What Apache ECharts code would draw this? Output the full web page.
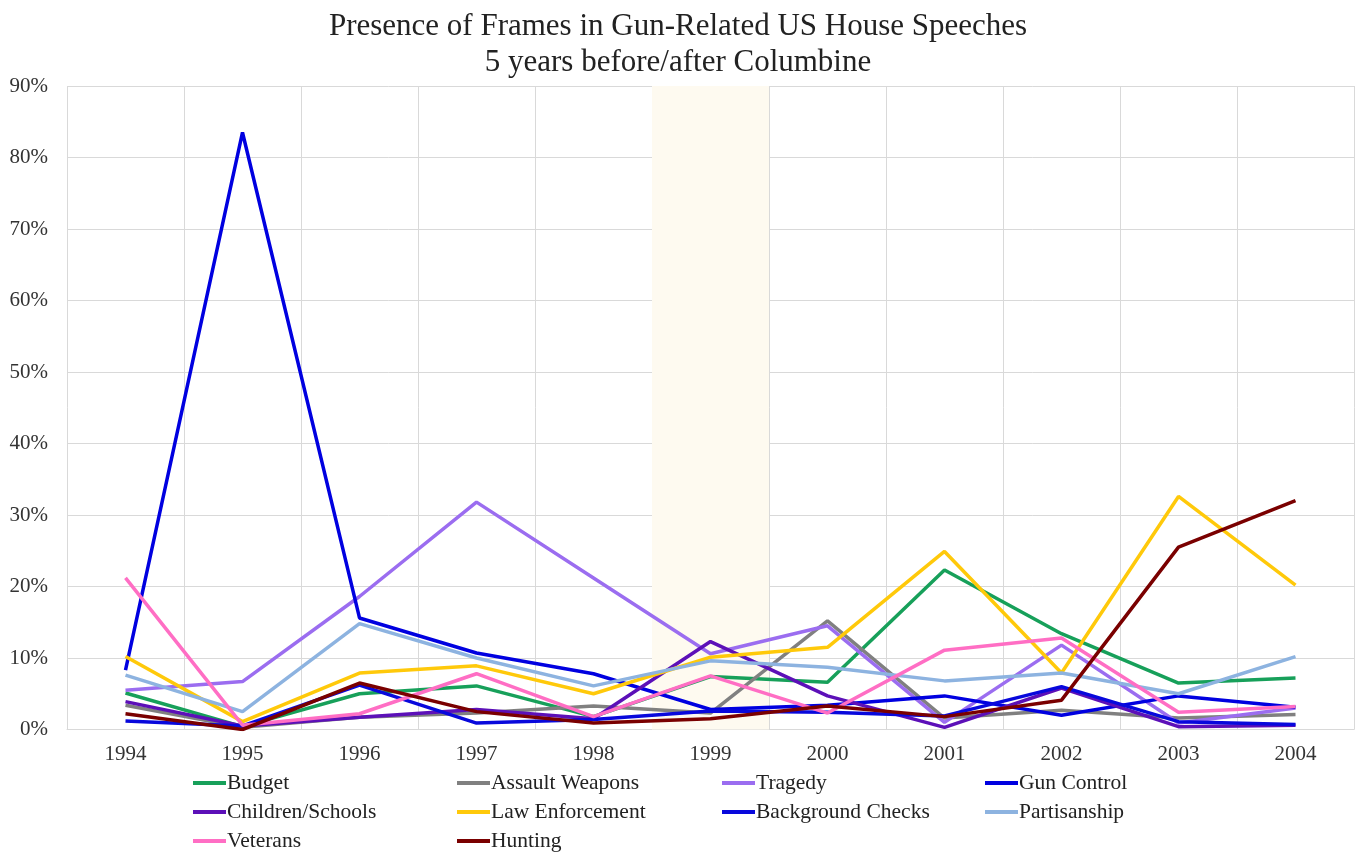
<!DOCTYPE html>
<html>
<head>
<meta charset="utf-8">
<script src="https://cdn.jsdelivr.net/npm/echarts@6/dist/echarts.min.js"></script>
<style>
  html, body { margin: 0; padding: 0; background: #ffffff; }
  #chart { width: 1356px; height: 854px; }
</style>
</head>
<body>
<div id="chart"></div>
<script>
// Years of House speeches, five before and five after Columbine (1999)
const years = ['1994', '1995', '1996', '1997', '1998', '1999', '2000', '2001', '2002', '2003', '2004'];

// Share of gun-related speeches containing each frame (%)
const budget           = [5.1, 0.4, 5.0, 6.1, 1.8, 7.4, 6.6, 22.3, 13.4, 6.5, 7.2];
const assaultWeapons   = [3.4, 0.3, 1.7, 2.3, 3.3, 2.3, 15.2, 1.6, 2.7, 1.6, 2.1];
const tragedy          = [5.5, 6.7, 18.6, 31.8, 21.2, 10.6, 14.5, 1.0, 11.8, 0.9, 3.0];
const gunControl       = [8.3, 83.5, 15.6, 10.7, 7.8, 2.8, 3.4, 4.7, 2.0, 4.7, 3.1];
const childrenSchools  = [3.9, 0.5, 1.7, 2.8, 1.5, 12.3, 4.7, 0.3, 5.8, 0.4, 0.6];
const lawEnforcement   = [10.2, 1.1, 7.9, 8.9, 5.0, 10.1, 11.5, 24.9, 7.9, 32.6, 20.2];
const backgroundChecks = [1.2, 0.5, 6.2, 0.9, 1.4, 2.6, 2.4, 1.9, 6.0, 1.1, 0.7];
const partisanship     = [7.6, 2.5, 14.8, 10.0, 6.1, 9.6, 8.7, 6.8, 7.9, 5.0, 10.2];
const veterans         = [21.2, 0.6, 2.2, 7.8, 1.8, 7.5, 2.3, 11.1, 12.8, 2.4, 3.2];
const hunting          = [2.2, 0.0, 6.5, 2.5, 0.9, 1.5, 3.3, 1.8, 4.1, 25.5, 32.0];

// Shaded band marking the Columbine year, spanning the full axis height
const columbineBand = [null, null, null, null, null, 90, null, null, null, null, null];

// Value axis range and step (%)
const yMin = 0, yMax = 90, yStep = 10;

const frames = [
  { name: 'Budget',            data: budget,           color: '#17a05a' },
  { name: 'Assault Weapons',   data: assaultWeapons,   color: '#808080' },
  { name: 'Tragedy',           data: tragedy,          color: '#9b6df0' },
  { name: 'Gun Control',       data: gunControl,       color: '#0000e0' },
  { name: 'Children/Schools',  data: childrenSchools,  color: '#5c10b8' },
  { name: 'Law Enforcement',   data: lawEnforcement,   color: '#ffc90a' },
  { name: 'Background Checks', data: backgroundChecks, color: '#0808dc' },
  { name: 'Partisanship',      data: partisanship,     color: '#8db3e0' },
  { name: 'Veterans',          data: veterans,         color: '#ff6ec4' },
  { name: 'Hunting',           data: hunting,          color: '#7a0000' }
];

const serif = "'Liberation Serif', 'DejaVu Serif', serif";

// Legend grid: four columns, three rows (entries placed row by row)
const legendColumnLeft = [193, 457, 722, 985];
const legendRowTop = [772, 801, 830];

const chart = echarts.init(document.getElementById('chart'), null, { renderer: 'canvas' });

const series = [
  {
    name: 'Columbine',
    type: 'bar',
    data: columbineBand,
    barWidth: '100%',
    itemStyle: { color: '#fefaf0' },
    silent: true,
    z: 0
  }
].concat(frames.map(f => ({
  name: f.name,
  type: 'line',
  data: f.data,
  symbol: 'none',
  smooth: false,
  lineStyle: { width: 3.5, color: f.color },
  itemStyle: { color: f.color },
  emphasis: { disabled: true },
  z: 3
})));

const legends = frames.map((f, i) => ({
  data: [f.name],
  left: legendColumnLeft[i % 4],
  top: legendRowTop[Math.floor(i / 4)],
  padding: 0,
  itemWidth: 33,
  itemHeight: 4,
  icon: 'rect',
  selectedMode: false,
  textStyle: {
    fontFamily: serif,
    fontSize: 21.5,
    color: '#222222',
    padding: [0, 0, 0, -4]
  }
}));

chart.setOption({
  animation: false,
  backgroundColor: '#ffffff',
  title: {
    text: 'Presence of Frames in Gun-Related US House Speeches\n5 years before/after Columbine',
    left: 'center',
    top: 4,
    textStyle: {
      fontFamily: serif,
      fontSize: 31,
      fontWeight: 'normal',
      color: '#222222',
      lineHeight: 36
    }
  },
  legend: legends,
  grid: {
    left: 67,
    right: 2,
    top: 86,
    bottom: 124.5,
    containLabel: false
  },
  xAxis: {
    type: 'category',
    data: years,
    boundaryGap: true,
    axisLine: { show: true, lineStyle: { color: '#d9d9d9', width: 1 } },
    axisTick: { show: false },
    splitLine: { show: true, lineStyle: { color: '#d9d9d9', width: 1 } },
    axisLabel: {
      fontFamily: serif,
      fontSize: 21,
      color: '#333333',
      margin: 14
    }
  },
  yAxis: {
    type: 'value',
    min: yMin,
    max: yMax,
    interval: yStep,
    axisLine: { show: false },
    axisTick: { show: false },
    splitLine: { show: true, lineStyle: { color: '#d9d9d9', width: 1 } },
    axisLabel: {
      formatter: '{value}%',
      fontFamily: serif,
      fontSize: 21,
      color: '#333333',
      margin: 19
    }
  },
  series: series
});
</script>
</body>
</html>
